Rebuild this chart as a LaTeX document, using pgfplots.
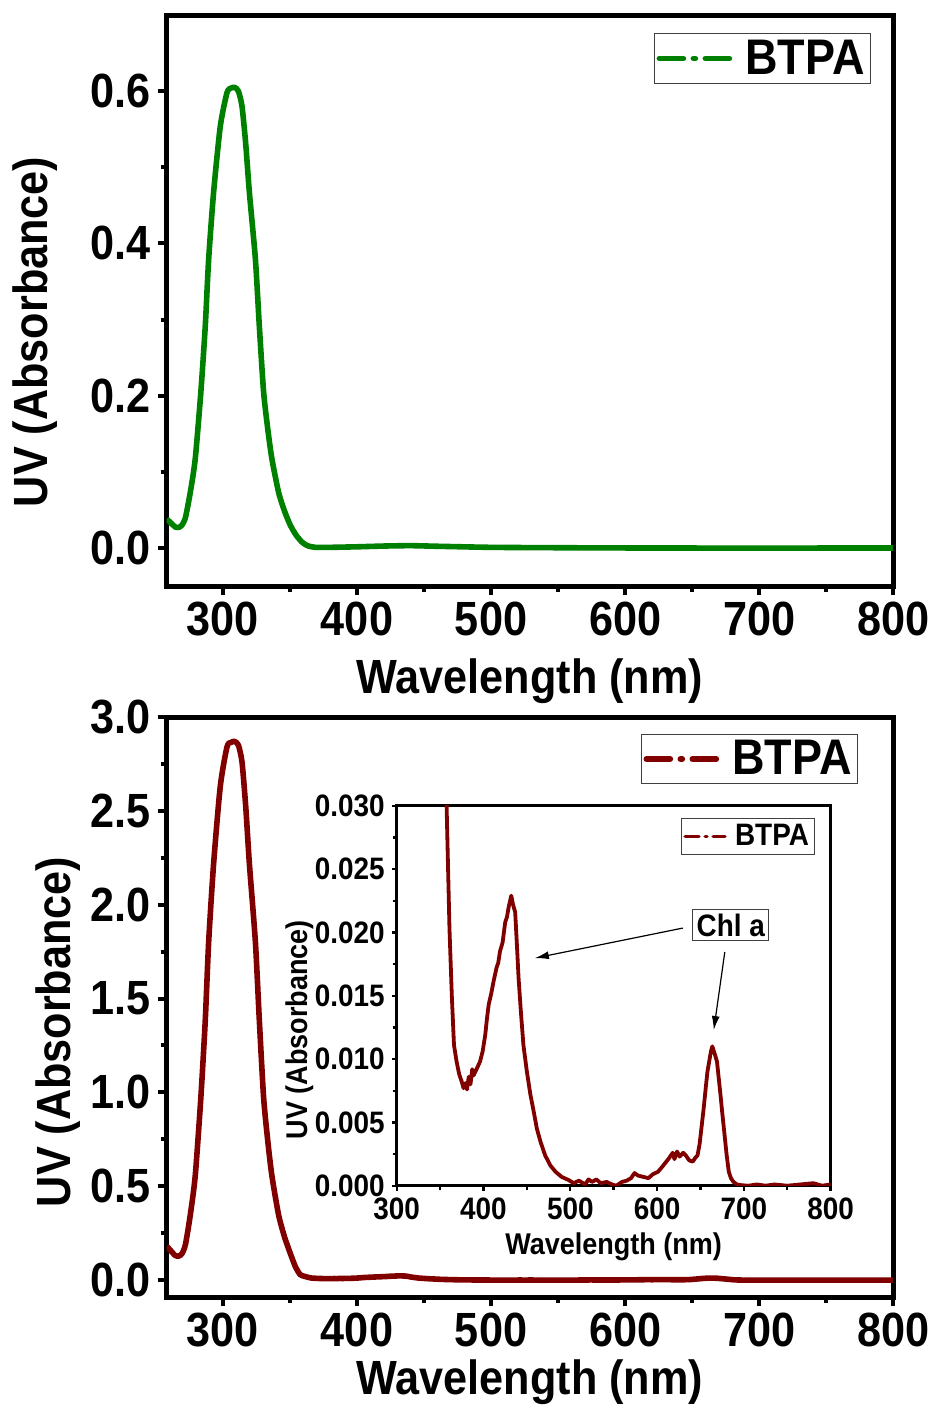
\documentclass[border=0pt]{standalone}
\usepackage{fontspec}
\setmainfont{Liberation Sans}[FakeStretch=0.9]
\usepackage{pgfplots}
\usepackage{pgfplotstable}
\pgfplotsset{compat=1.18}
\usetikzlibrary{arrows.meta}
\definecolor{og}{RGB}{0,128,0}
\definecolor{dr}{RGB}{128,0,0}

\pgfplotstableread{
x y
258 0.038
261 0.033
264.4 0.0275
267 0.027
269.4 0.030
272 0.040
275.6 0.073
279.3 0.117
283.5 0.205
286.8 0.292
289.3 0.379
293.0 0.467
298.0 0.554
303.0 0.598
306 0.604
308.7 0.605
311.5 0.600
314.2 0.580
317 0.530
319.7 0.467
324.2 0.379
327.1 0.292
330.3 0.205
333.5 0.155
336.5 0.117
341.5 0.073
346 0.048
350.2 0.030
354.5 0.017
358.9 0.0078
363 0.003
368.8 0.0008
380 0.0008
400 0.0015
420 0.0025
440 0.0030
460 0.0022
500 0.0008
550 0.0003
600 0.0000
700 -0.0002
800 0.0000
}\topdata

\pgfplotstableread{
x y
258 0.181
261 0.157
264.4 0.131
267 0.128
269.4 0.141
272 0.190
275.6 0.347
279.3 0.556
283.5 0.974
286.8 1.387
289.3 1.800
293.0 2.218
298.0 2.632
303.0 2.841
306 2.865
308.7 2.870
311.5 2.850
314.2 2.760
317 2.520
319.7 2.218
324.2 1.800
327.1 1.387
330.3 0.974
333.5 0.736
336.5 0.556
341.5 0.347
346 0.228
350.2 0.143
354 0.072
357.5 0.030
360.8 0.0203
363.5 0.0150
366 0.0111
369 0.0098
372 0.0088
375 0.0082
377 0.0077
379 0.0081
381 0.0076
383 0.0086
385 0.0080
387 0.0092
388.5 0.0087
392 0.0092
396 0.0098
399 0.0106
402 0.0119
404 0.0132
406 0.0143
409 0.0152
411.5 0.0161
415 0.0172
417 0.0176
419 0.0185
422 0.0192
425 0.0208
427 0.0212
429 0.0220
432 0.0229
434 0.0222
436.5 0.0216
438.5 0.0190
440.4 0.0164
443 0.0138
446 0.0111
450 0.0090
454 0.0072
458 0.0058
461.5 0.0045
466 0.0034
471 0.0024
477 0.0016
483 0.0011
490 0.0007
498 0.00045
504 0.0002
510 0.0004
517 0.0001
521 0.0005
525 0.0003
530 0.0005
535 0.0002
542 0.0003
548 0.0001
553 0.0000
559.5 0.0003
565 0.0004
570 0.0006
574 0.0010
578 0.0008
584 0.0007
590 0.0006
595 0.0009
601 0.0011
606 0.0015
610.6 0.0019
614 0.0022
618 0.0026
620 0.0021
623 0.0027
626 0.0023
630 0.0026
633 0.0024
637 0.0020
641 0.0019
644 0.0022
646.6 0.0024
649 0.0033
651 0.0045
653.5 0.0060
656 0.0077
658 0.0090
660 0.0098
662 0.0106
663.6 0.0110
666 0.0105
669 0.0098
671 0.0085
673 0.0072
675 0.0058
677 0.0045
680 0.0025
682.6 0.0011
685 0.0006
688 0.0003
692 0.0001
696 0.00005
705 0.0000
715 0.0001
725 0.0000
735 0.0001
750 0.0000
765 0.0001
780 0.0002
790 0.0000
800 0.0001
}\botdata

\pgfplotsset{
  mainax/.style={
    scale only axis,
    width=363.2pt,
    axis line style={line width=2.5pt},
    tick align=outside,
    xtick pos=bottom, ytick pos=left,
    major tick length=4.5pt, minor tick length=3pt,
    every major tick/.style={black, line width=2pt},
    every minor tick/.style={black, line width=2pt},
    /pgf/number format/assume math mode=true,
    tick label style={font=\fontsize{24}{28}\selectfont\bfseries},
    label style={font=\fontsize{24}{28}\selectfont\bfseries},
    xmin=258, xmax=800,
    xtick={300,400,500,600,700,800},
    minor xtick={350,450,550,650,750},
    xlabel={Wavelength (nm)},
    ylabel={UV (Absorbance)},
    yticklabel style={/pgf/number format/.cd, fixed, fixed zerofill, precision=1},
    legend cell align=left,
    legend image code/.code={\draw[#1, line cap=round, dash pattern=on 12pt off 5pt on 1pt off 5pt] (0pt,0pt) -- (35pt,0pt); \path[draw=none] (0pt,0pt) -- (41pt,0pt);},
  },
}

\begin{document}
\begin{tikzpicture}[x=1pt,y=1pt]
\path[use as bounding box] (0,0) rectangle (468.5,-702.5);

% ---------- top panel ----------
\begin{axis}[mainax,
  at={(83.35pt,-293pt)}, anchor=south west,
  height=285.5pt,
  ymin=-0.05, ymax=0.70,
  ytick={0,0.2,0.4,0.6}, minor ytick={0.1,0.3,0.5},
  xlabel style={at={(axis description cs:0.5,-0.188)}, anchor=base},
  ylabel style={at={(axis description cs:-0.181,0.445)}, anchor=center},
  legend style={at={(axis description cs:0.671,0.968)}, anchor=north west,
    draw=black!75, line width=0.5pt, inner xsep=1pt, inner ysep=1pt,
    font=\fontsize{25}{29}\selectfont\bfseries},
]
\addlegendimage{og, line width=2.8pt}
\addlegendentry{BTPA}
\addplot[og, line width=2.8pt, line join=round, smooth, tension=0.4, forget plot] table[x=x,y=y] {\topdata};
\end{axis}

% ---------- bottom panel ----------
\begin{axis}[mainax,
  at={(83.35pt,-648.5pt)}, anchor=south west,
  height=290pt,
  ymin=-0.09, ymax=3.0,
  ytick={0,0.5,1,1.5,2,2.5,3}, minor ytick={0.25,0.75,1.25,1.75,2.25,2.75},
  xlabel style={at={(axis description cs:0.5,-0.168)}, anchor=base},
  ylabel style={at={(axis description cs:-0.150,0.457)}, anchor=center},
  legend style={at={(axis description cs:0.653,0.971)}, anchor=north west,
    draw=black!75, line width=0.5pt, inner xsep=1pt, inner ysep=1pt,
    font=\fontsize{25}{29}\selectfont\bfseries},
]
\addlegendimage{dr, line width=2.8pt}
\addlegendentry{BTPA}
\addplot[dr, line width=2.8pt, line join=round, smooth, tension=0.4, forget plot] table[x=x,y=y] {\botdata};
\end{axis}

% ---------- inset ----------
\begin{axis}[
  at={(198.35pt,-592.85pt)}, anchor=south west,
  scale only axis, width=217pt, height=190pt,
  axis background/.style={fill=white},
  axis line style={line width=1.5pt},
  tick align=outside,
  xtick pos=bottom, ytick pos=left,
  major tick length=2.5pt, minor tick length=2pt,
  every major tick/.style={black, line width=1.2pt},
  every minor tick/.style={black, line width=1.2pt},
  /pgf/number format/assume math mode=true,
  tick label style={font=\fontsize{15.5}{18}\selectfont\bfseries},
  label style={font=\fontsize{15}{18}\selectfont\bfseries},
  xmin=300, xmax=800, ymin=0, ymax=0.030,
  xtick={300,400,500,600,700,800}, minor xtick={350,450,550,650,750},
  ytick={0,0.005,0.01,0.015,0.02,0.025,0.03},
  minor ytick={0.0025,0.0075,0.0125,0.0175,0.0225,0.0275},
  yticklabel style={/pgf/number format/.cd, fixed, fixed zerofill, precision=3},
  scaled y ticks=false,
  xlabel={Wavelength (nm)}, ylabel={UV (Absorbance)},
  xlabel style={at={(axis description cs:0.5,-0.182)}, anchor=base},
  ylabel style={at={(axis description cs:-0.223,0.41)}, anchor=center},
  legend cell align=left,
  legend image code/.code={\draw[#1, line cap=round, dash pattern=on 7pt off 3pt on 1pt off 3pt] (0pt,0pt) -- (20pt,0pt); \path[draw=none] (0pt,0pt) -- (23pt,0pt);},
  legend style={at={(axis description cs:0.655,0.968)}, anchor=north west,
    draw=black!75, line width=0.5pt, inner xsep=1pt, inner ysep=1pt,
    font=\fontsize{15.5}{18}\selectfont\bfseries},
]
\addlegendimage{dr, line width=1.6pt}
\addlegendentry{BTPA}
\addplot[dr, line width=1.9pt, line join=round, forget plot, restrict y to domain=-0.01:0.1] table[x=x,y=y] {\botdata};
\node[draw=black!75, line width=0.5pt, inner sep=2pt, font=\fontsize{15.5}{18}\selectfont\bfseries]
  at (axis cs:684.9,0.02058) {Chl a};
\draw[line width=0.6pt, -{Latex[length=7pt,width=4pt]}] (axis cs:629.6,0.02034) -- (axis cs:459.2,0.01797);
\draw[line width=0.6pt, -{Latex[length=7pt,width=4pt]}] (axis cs:678,0.01845) -- (axis cs:665.3,0.01229);
\end{axis}
\end{tikzpicture}
\end{document}
